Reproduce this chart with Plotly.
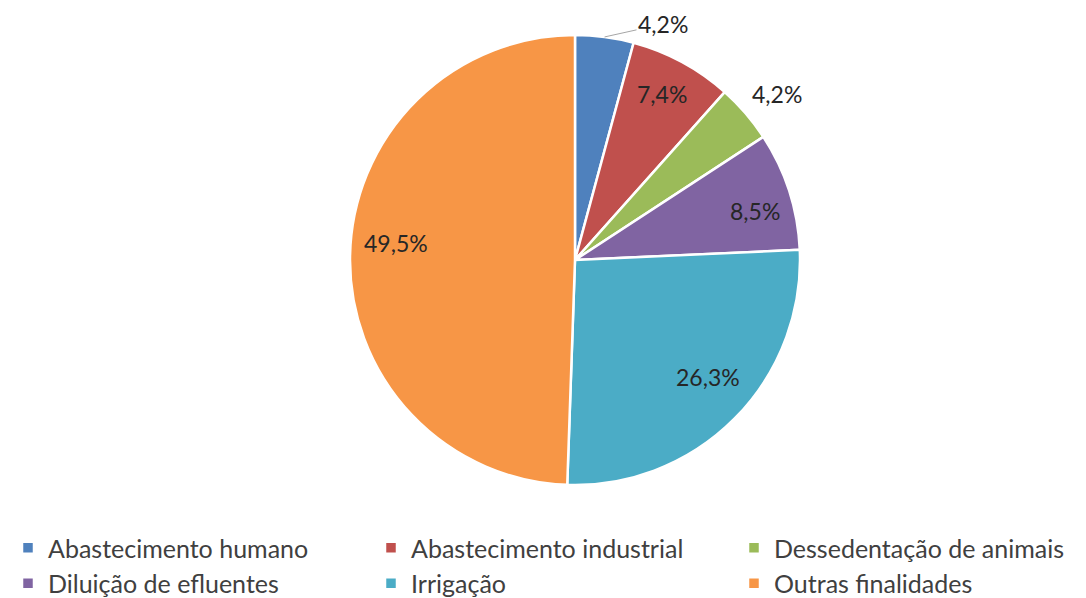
import math
import plotly.graph_objects as go

categories = ["Abastecimento humano", "Abastecimento industrial", "Dessedentação de animais",
              "Diluição de efluentes", "Irrigação", "Outras finalidades"]
values = [4.2, 7.4, 4.2, 8.5, 26.3, 49.5]
labels = ["4,2%", "7,4%", "4,2%", "8,5%", "26,3%", "49,5%"]
colors = ["#4F81BD", "#C0504D", "#9BBB59", "#8064A2", "#4BACC6", "#F79646"]

W, H = 1086, 598
OFF = 8  # page body margin offset
# pie centre/radius in figure pixels
cx, cy, R = 575 - OFF, 260 - OFF, 225
dom_x = [(cx - R) / W, (cx + R) / W]
dom_y = [1 - (cy + R) / H, 1 - (cy - R) / H]

fig = go.Figure()
fig.add_trace(go.Pie(
    labels=categories, values=values, sort=False, direction="clockwise", rotation=0,
    marker=dict(colors=colors, line=dict(color="white", width=2.5)),
    textinfo="none", hoverinfo="label+percent",
    domain=dict(x=dom_x, y=dom_y),
))

lab_font = dict(family="Lato", size=23, color="#262626")
# label placement per slice: fraction of radius (outside ones > 1) and angle tweak (deg)
radial = [1.0, 0.83, 1.16, 0.83, 0.79, 0.80]
ang_adj = [0.0, -0.6, 1.6, 3.0, -3.2, 4.2]
total = sum(values)
cum = 0
for i, v in enumerate(values):
    mid = (cum + v / 2) / total * 2 * math.pi
    cum += v
    a = mid + math.radians(ang_adj[i])
    r = radial[i] * R
    px = cx + r * math.sin(a)
    py = cy - r * math.cos(a) - 1
    if i == 0:
        ex = cx + R * math.sin(mid)
        ey = cy - R * math.cos(mid)
        tx, ty = 663 - OFF, 24 - OFF
        fig.add_annotation(x=ex / W, y=1 - ey / H, xref="paper", yref="paper",
                           ax=tx - ex, ay=ty - ey, text=labels[i], showarrow=True,
                           arrowhead=0, arrowwidth=1, arrowcolor="#A6A6A6",
                           xanchor="center", yanchor="middle", font=lab_font)
    else:
        fig.add_annotation(x=px / W, y=1 - py / H, xref="paper", yref="paper",
                           text=labels[i], showarrow=False,
                           xanchor="center", yanchor="middle", font=lab_font)

fig.update_layout(
    width=W, height=H, margin=dict(l=0, r=0, t=0, b=0, autoexpand=False),
    paper_bgcolor="white", plot_bgcolor="white",
    showlegend=True,
    legend=dict(orientation="h", xref="container", yref="container",
                x=-0.008, xanchor="left", y=1 - 517 / H, yanchor="top",
                entrywidth=318, entrywidthmode="pixels",
                font=dict(family="Lato", size=25, color="#404040"),
                traceorder="normal"),
)
fig.write_html("out.html")
